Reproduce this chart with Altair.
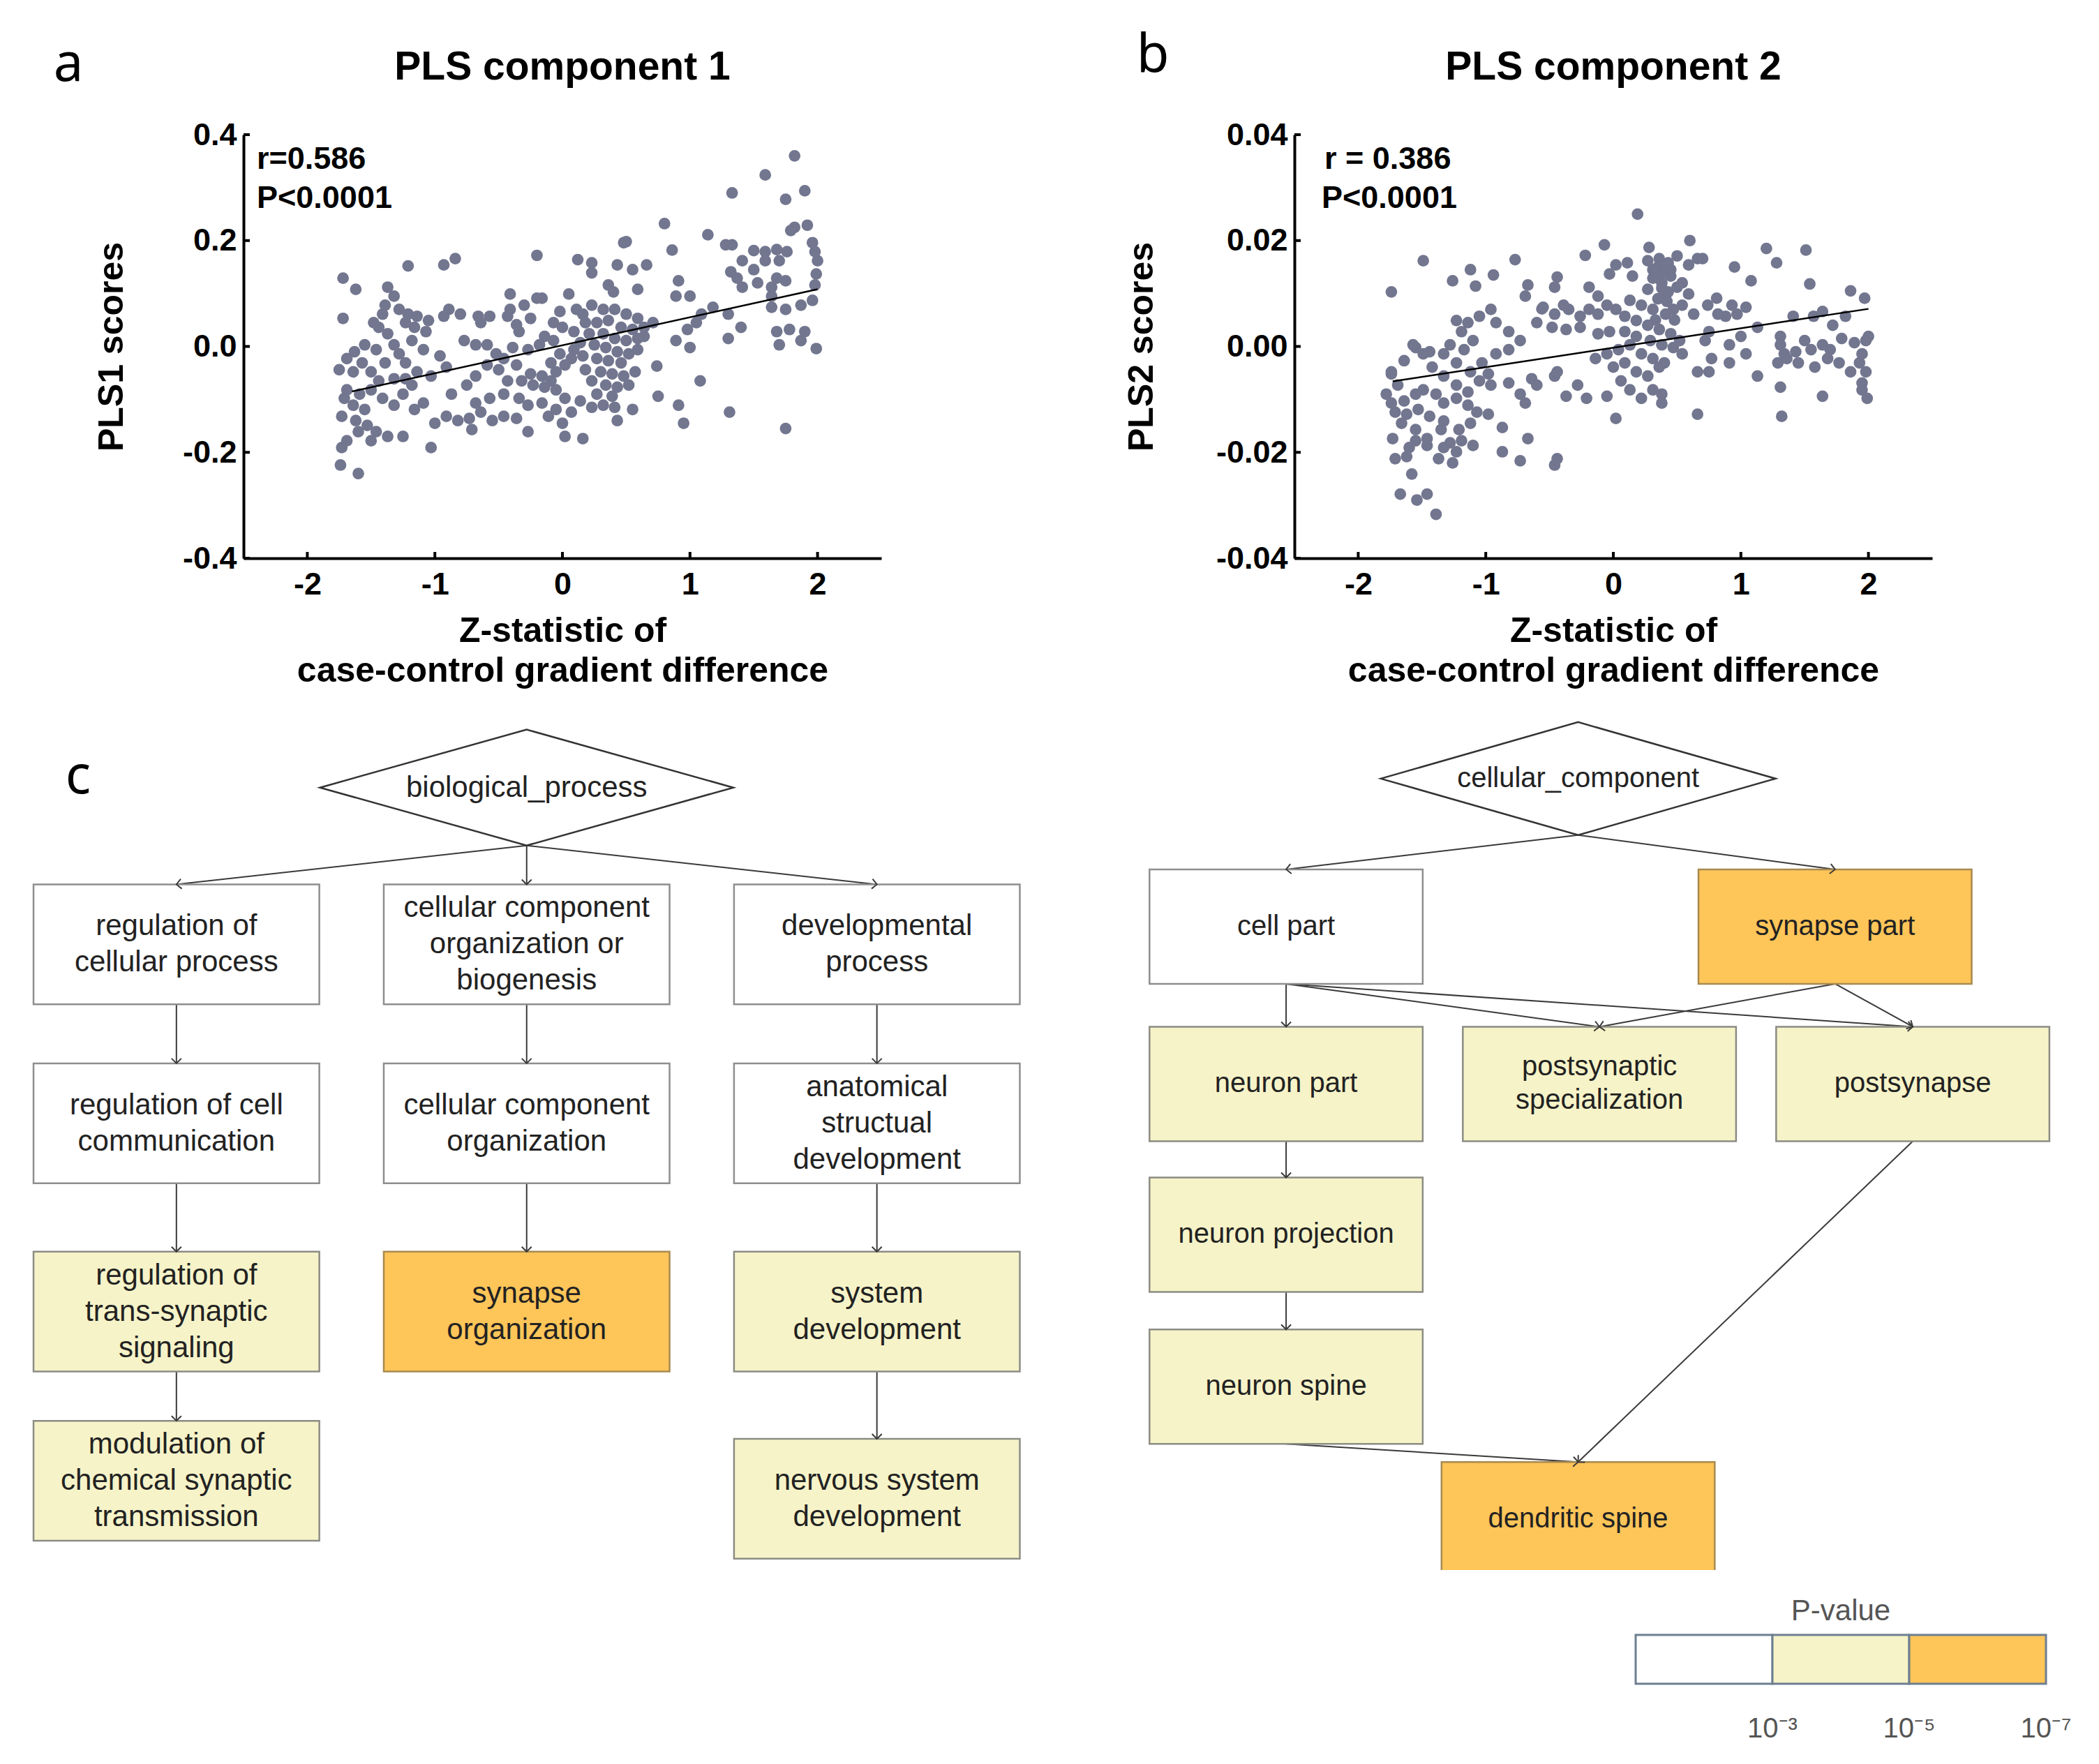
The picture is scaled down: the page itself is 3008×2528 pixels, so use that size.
import math
import altair as alt
import pandas as pd

# ------------------------------------------------------------------ data: panel a
a_points = [
(1.82,0.36),(1.59,0.324),(1.33,0.29),(1.90,0.294),(1.75,0.278),(0.80,0.232),(1.14,0.211),(1.82,0.225),(1.92,0.229),(1.79,0.219),
(1.28,0.192),(1.33,0.192),(0.86,0.182),(0.48,0.196),(0.50,0.198),(-0.20,0.172),(0.12,0.164),(0.23,0.158),(0.43,0.154),(0.55,0.145),
(0.66,0.154),(0.23,0.139),(1.50,0.181),(1.59,0.179),(1.68,0.183),(1.76,0.179),(1.41,0.162),(1.50,0.145),(1.59,0.162),(1.70,0.162),
(1.96,0.196),(1.98,0.179),(2.00,0.162),(1.99,0.137),(1.98,0.116),(1.32,0.141),(1.37,0.129),(1.41,0.112),(1.53,0.120),(1.64,0.112),
(1.68,0.129),(1.75,0.124),(0.91,0.124),(0.89,0.095),(1.00,0.095),(0.36,0.116),(0.40,0.103),(0.59,0.108),(1.64,0.095),(1.64,0.074),
(1.75,0.070),(1.87,0.078),(1.96,0.087),(1.18,0.074),(1.09,0.061),(1.30,0.061),(1.68,0.028),(1.78,0.032),(1.90,0.028),(1.40,0.036),
(1.30,0.015),(1.70,0.003),(1.87,0.011),(1.99,-0.004),(0.89,0.011),(1.00,-0.002),(1.05,0.045),(0.98,0.032),(1.08,-0.065),(0.74,-0.037),
(0.75,-0.094),(0.91,-0.111),(0.95,-0.145),(1.31,-0.124),(1.75,-0.155),(0.59,-0.006),(0.64,0.019),(0.71,0.045),
(0.11,0.070),(0.16,0.061),(0.23,0.078),(0.32,0.070),(0.41,0.070),(0.50,0.061),(0.59,0.053),(0.18,0.045),(0.27,0.045),(0.36,0.049),
(0.46,0.036),(0.55,0.032),(0.64,0.036),(0.09,0.028),(0.21,0.024),(0.32,0.024),(0.41,0.015),(0.50,0.011),(0.59,0.015),(0.14,0.007),
(0.25,0.003),(0.34,-0.002),(0.43,-0.010),(0.52,-0.014),(0.16,-0.018),(0.27,-0.023),(0.36,-0.027),(0.46,-0.031),(0.18,-0.044),(0.30,-0.048),
(0.39,-0.052),(0.48,-0.056),(0.57,-0.048),(0.23,-0.065),(0.34,-0.073),(0.43,-0.077),(0.52,-0.073),(0.27,-0.090),(0.39,-0.094),(0.32,-0.111),
(0.41,-0.115),(0.55,-0.119),(0.43,-0.140),(0.23,-0.115),(0.16,-0.174),(0.02,-0.170),(0.00,-0.145),(0.07,-0.124),(0.14,-0.103),(0.02,-0.098),
(-0.05,-0.082),(-0.09,-0.065),(-0.16,-0.056),(-0.25,-0.052),(-0.32,-0.065),(-0.23,-0.073),(-0.14,-0.077),(-0.05,-0.048),(-0.09,-0.031),(0.02,-0.035),
(0.07,-0.023),(-0.02,-0.014),(0.09,-0.006),(-0.07,0.011),(-0.14,0.019),(0.00,0.036),(-0.07,0.045),(-0.02,0.066),(0.05,0.099),(-0.16,0.091),
(-0.30,0.078),(-0.41,0.099),(-0.34,0.028),(-0.25,0.053),(-0.18,0.003),(-0.27,-0.006),(-0.39,-0.002),(-0.46,-0.023),(-0.36,-0.035),(-0.50,-0.044),
(-0.43,-0.065),(-0.46,-0.090),(-0.34,-0.098),(-0.27,-0.111),(-0.16,-0.107),(-0.46,-0.132),(-0.36,-0.136),(-0.27,-0.161),(-0.11,-0.132),(-0.05,-0.119),
(-0.55,-0.140),(-0.64,-0.124),(-0.73,-0.136),(-0.71,-0.157),(-0.82,-0.140),(-0.91,-0.132),(-1.00,-0.145),(-1.03,-0.191),(-0.87,-0.090),(-0.75,-0.073),
(-0.68,-0.056),(-0.59,-0.035),(-0.52,-0.014),(-0.59,0.003),(-0.68,0.003),(-0.77,0.011),(-0.64,0.045),(-0.57,0.057),(-0.66,0.057),(-0.80,0.061),
(-0.89,0.070),(-0.93,0.057),(-1.05,0.049),(-1.07,0.028),(-1.16,0.036),(-1.23,0.045),(-1.18,0.011),(-1.09,-0.006),(-0.96,-0.018),(-0.91,-0.039),
(-1.03,-0.056),(-1.14,-0.048),(-1.23,-0.031),(-1.28,-0.014),(-1.32,0.003),(-1.37,0.024),(-1.44,0.036),(-1.48,0.045),(-1.41,0.061),(-1.39,0.078),
(-1.32,0.095),(-1.37,0.112),(-1.28,0.070),(-1.21,0.061),(-1.14,0.057),(-0.84,0.166),(-0.93,0.154),(-1.21,0.152),(-1.62,0.108),(-1.72,0.129),
(-1.72,0.053),(-1.69,-0.023),(-1.75,-0.044),(-1.64,-0.048),(-1.57,-0.031),(-1.50,-0.048),(-1.44,-0.065),(-1.50,-0.082),(-1.59,-0.090),(-1.69,-0.082),
(-1.71,-0.098),(-1.64,-0.111),(-1.55,-0.119),(-1.73,-0.132),(-1.62,-0.140),(-1.53,-0.149),(-1.46,-0.161),(-1.37,-0.170),(-1.25,-0.170),(-1.60,-0.161),
(-1.69,-0.178),(-1.73,-0.191),(-1.50,-0.178),(-1.74,-0.224),(-1.60,-0.240),(-1.41,-0.098),(-1.32,-0.111),(-1.25,-0.090),(-1.18,-0.073),(-1.23,-0.061),
(-1.16,-0.119),(-1.09,-0.107),(-1.32,-0.061),(-1.39,-0.031),(-1.46,-0.006),(-1.55,0.003),(-1.63,-0.010),(-0.57,-0.098),(-0.68,-0.107),(-0.43,0.057),
(-0.36,0.041),(-0.20,0.091),(-0.41,0.070),
]
a_fit_x = [-1.65, 2.00]
a_fit_y = [-0.085, 0.108]

# ------------------------------------------------------------------ data: panel b
b_points = [
(0.19,0.025),(0.60,0.020),(0.28,0.0187),(-0.07,0.0192),(-0.22,0.0172),(1.20,0.0185),(1.51,0.0182),(1.28,0.0158),(0.95,0.015),(1.54,0.0118),
(1.08,0.0124),(1.86,0.0105),(1.97,0.0091),(-0.77,0.0164),(-1.49,0.0162),(-1.12,0.0145),(-0.94,0.0135),(-1.26,0.0124),(-1.08,0.0114),(-1.74,0.0103),
(-0.67,0.0116),(-0.44,0.0131),(-0.46,0.0112),(-0.19,0.0112),(-0.12,0.0095),(-0.03,0.0137),(0.02,0.0154),(0.11,0.0158),(0.15,0.0133),(0.27,0.0162),
(0.31,0.0145),(0.36,0.0166),(0.43,0.0158),(0.50,0.0171),(0.59,0.0154),(0.66,0.0166),(0.70,0.0166),(0.31,0.0129),(0.38,0.0120),(0.45,0.0133),
(0.54,0.0120),(0.27,0.0108),(0.43,0.0103),(0.59,0.0099),(0.74,0.0078),(0.81,0.0091),(0.93,0.0078),(1.04,0.0074),(0.97,0.0061),(0.88,0.0057),
(1.13,0.0036),(1.41,0.0057),(1.57,0.0057),(1.64,0.0066),(1.82,0.0057),(1.72,0.0040),(1.31,0.0019),(1.31,0.0003),(1.34,-0.0014),(1.43,-0.0010),
(1.50,0.0011),(1.55,-0.0006),(1.64,0.0003),(1.70,-0.0006),(1.79,0.0015),(1.89,0.0007),(1.98,0.0011),(2.00,0.0019),(1.95,-0.0014),(1.93,-0.0031),
(1.98,-0.0048),(1.95,-0.0069),(1.95,-0.0082),(1.99,-0.0098),(1.86,-0.0048),(1.77,-0.0031),(1.68,-0.0023),(1.58,-0.0039),(1.45,-0.0031),(1.36,-0.0023),
(1.29,-0.0031),(1.64,-0.0094),(1.31,-0.0077),(1.32,-0.0132),(1.13,-0.0056),(0.91,-0.0031),(0.77,-0.0023),(0.72,0.0011),(0.66,-0.0048),(0.75,-0.0048),
(0.66,-0.0128),(0.54,-0.0014),(0.52,0.0011),(0.45,0.0024),(0.36,0.0032),(0.27,0.0040),(0.18,0.0049),(0.09,0.0057),(0.02,0.0070),(-0.05,0.0078),
(-0.12,0.0061),(-0.19,0.0070),(-0.26,0.0057),(-0.35,0.0070),(-0.39,0.0078),(-0.55,0.0074),(-0.60,0.0045),(-0.48,0.0036),(-0.37,0.0032),(-0.26,0.0036),
(-0.12,0.0024),(-0.03,0.0028),(0.09,0.0028),(0.18,0.0019),(0.29,0.0011),(0.38,0.0003),(0.47,-0.0002),(0.13,0.0003),(0.04,-0.0006),(-0.05,-0.0014),
(-0.14,-0.0023),(0.22,-0.0014),(0.31,-0.0023),(0.40,-0.0031),(0.09,-0.0031),(0.00,-0.0039),(0.18,-0.0048),(0.27,-0.0056),(0.36,-0.0039),(0.06,-0.0065),
(0.13,-0.0082),(0.22,-0.0098),(0.31,-0.0082),(0.38,-0.0090),(0.38,-0.0107),(-0.05,-0.0094),(0.02,-0.0136),(-0.21,-0.0098),(-0.28,-0.0073),(-0.37,-0.0094),
(-0.46,-0.0056),(-0.44,-0.0048),(-0.46,-0.0224),(-0.44,-0.0212),(-0.67,-0.0174),(-0.73,-0.0216),(-0.87,-0.0199),(-0.87,-0.0153),(-0.69,-0.0107),(-0.73,-0.0090),
(-0.82,-0.0069),(-0.64,-0.0061),(-0.60,-0.0073),(-0.96,-0.0073),(-0.98,-0.0052),(-1.03,-0.0031),(-0.92,-0.0014),(-0.82,-0.0006),(-0.73,0.0011),(-0.82,0.0028),
(-0.92,0.0045),(-0.96,0.0070),(-1.05,0.0057),(-1.14,0.0045),(-1.23,0.0049),(-1.19,0.0028),(-1.10,0.0011),(-1.17,-0.0006),(-1.28,0.0003),(-1.33,-0.0014),
(-1.23,-0.0031),(-1.12,-0.0048),(-1.05,-0.0065),(-1.14,-0.0086),(-1.23,-0.0073),(-1.33,-0.0056),(-1.42,-0.0039),(-1.44,-0.0010),(-1.55,-0.0002),(-1.64,-0.0027),
(-1.74,-0.0052),(-1.69,-0.0073),(-1.78,-0.0090),(-1.74,-0.0107),(-1.64,-0.0103),(-1.55,-0.0090),(-1.49,-0.0082),(-1.39,-0.0090),(-1.33,-0.0107),(-1.23,-0.0098),
(-1.14,-0.0111),(-1.07,-0.0124),(-0.98,-0.0128),(-1.12,-0.0145),(-1.21,-0.0157),(-1.33,-0.0141),(-1.44,-0.0132),(-1.53,-0.0119),(-1.62,-0.0128),(-1.71,-0.0124),
(-1.66,-0.0145),(-1.55,-0.0157),(-1.46,-0.0174),(-1.35,-0.0157),(-1.28,-0.0182),(-1.19,-0.0178),(-1.10,-0.0187),(-1.33,-0.0191),(-1.23,-0.0199),(-1.26,-0.0220),
(-1.37,-0.0212),(-1.46,-0.0187),(-1.55,-0.0178),(-1.73,-0.0174),(-1.60,-0.0191),(-1.71,-0.0212),(-1.62,-0.0208),(-1.58,-0.0241),(-1.67,-0.0279),(-1.54,-0.0290),
(-1.46,-0.0279),(-1.39,-0.0317),(-1.57,0.0003),(-1.74,-0.0048),(-1.49,-0.0014),(-0.69,0.0095),(-0.56,0.0071),(-0.46,0.0061),(0.82,0.0061),(1.00,0.0019),
(0.91,0.0003),(1.04,-0.0014),(0.75,0.0028),(0.63,0.0061),(0.54,0.0078),(0.47,0.0070),(0.41,0.0061),(0.31,0.0070),(0.22,0.0078),(0.13,0.0087),
(0.41,0.0095),(0.50,0.0112),(0.35,0.0150),(0.40,0.0140),(0.33,0.0135),(0.45,0.0145),(0.38,0.0110),(0.42,0.0085),(0.35,0.0090),(0.48,0.0050),
(0.33,0.0050),
]
b_fit_x = [-1.73, 2.00]
b_fit_y = [-0.0066, 0.0071]

x_ticks = [-2, -1, 0, 1, 2]
a_y_ticks = [-0.4, -0.2, 0.0, 0.2, 0.4]
b_y_ticks = [-0.04, -0.02, 0.0, 0.02, 0.04]

# ------------------------------------------------------------------ data: panel c (GO trees)
bp_root = "biological_process"
bp_labels = ["regulation of\ncellular process", "cellular component\norganization or\nbiogenesis",
             "developmental\nprocess", "regulation of cell\ncommunication",
             "cellular component\norganization", "anatomical\nstructual\ndevelopment",
             "regulation of\ntrans-synaptic\nsignaling", "synapse\norganization",
             "system\ndevelopment", "modulation of\nchemical synaptic\ntransmission",
             "nervous system\ndevelopment"]
bp_col = [0, 1, 2, 0, 1, 2, 0, 1, 2, 0, 2]
bp_row = [0, 0, 0, 0.994, 0.994, 0.994, 2.04, 2.04, 2.04, 2.98, 3.08]
bp_level = [0, 0, 0, 0, 0, 0, 1, 2, 1, 1, 1]
bp_edges = [(-1, 0), (-1, 1), (-1, 2), (0, 3), (1, 4), (2, 5), (3, 6), (4, 7), (5, 8), (6, 9), (8, 10)]

cc_root = "cellular_component"
cc_labels = ["cell part", "synapse part", "neuron part", "postsynaptic\nspecialization",
             "postsynapse", "neuron projection", "neuron spine", "dendritic spine"]
cc_col = [0, 1.752, 0, 1.0, 2.0, 0, 0, 0.932]
cc_row = [0, 0, 1.025, 1.025, 1.025, 2.007, 2.997, 3.86]
cc_level = [0, 2, 1, 1, 1, 1, 1, 2]
cc_edges = [(-1, 0), (-1, 1), (0, 2), (0, 3), (0, 4), (1, 3), (1, 4), (2, 5), (5, 6), (6, 7), (4, 7)]

# P-value legend bins (-log10 P)
leg_lo = [1, 3, 5]
leg_hi = [3, 5, 7]
leg_level = [0, 1, 2]
leg_ticks = [3, 5, 7]
leg_tick_labels = ["10\u207b\u00b3", "10\u207b\u2075", "10\u207b\u2077"]

# ------------------------------------------------------------------ styles
PT = "#72768f"
FONT = "Liberation Sans"
FILL = ["#ffffff", "#f6f3c8", "#fec559"]
STROKE = ["#8e8e8e", "#8c8c84", "#a88a50"]
W, H = 914, 607


def txt(text, x, y, size, weight="bold", align="left", baseline="alphabetic",
        color="black", font=FONT):
    return alt.Chart(pd.DataFrame({"t": [text]})).mark_text(
        font=font, fontSize=size, fontWeight=weight, align=align,
        baseline=baseline, color=color
    ).encode(x=alt.value(x), y=alt.value(y), text="t:N")


def scatter(points, fit_x, fit_y, yticks, yfmt, ytitle, ytitle_x, title, ann1, ann2, ann_x1, ann_x2,
            letter, letter_x, letter_y):
    df = pd.DataFrame(points, columns=["x", "y"])
    xsc = alt.Scale(domain=[-2.5, 2.5], nice=False, zero=False)
    ysc = alt.Scale(domain=[yticks[0], yticks[-1]], nice=False, zero=False)
    yexpr = (f"datum.value < 0 ? '-' + format(-datum.value, '{yfmt}') "
             f": format(datum.value, '{yfmt}')")
    xexpr = "datum.value < 0 ? '-' + format(-datum.value, 'd') : format(datum.value, 'd')"
    xaxis = alt.Axis(values=x_ticks, ticks=False, tickSize=0, grid=False, labelExpr=xexpr,
                     labelFont=FONT, labelFontSize=45, labelFontWeight="bold",
                     labelColor="black", labelPadding=15, domainColor="black", domainWidth=4,
                     title=["Z-statistic of", "case-control gradient difference"],
                     titleFont=FONT, titleFontSize=50, titleFontWeight="bold",
                     titleColor="black", titleX=W / 2, titleY=119, titleAlign="center",
                     titleBaseline="alphabetic", titleLineHeight=57)
    yaxis = alt.Axis(values=yticks, ticks=False, tickSize=0, grid=False, labelExpr=yexpr,
                     labelFont=FONT, labelFontSize=45, labelFontWeight="bold",
                     labelColor="black", labelPadding=10, domainColor="black", domainWidth=4,
                     title=ytitle, titleFont=FONT, titleFontSize=50, titleFontWeight="bold",
                     titleColor="black", titleAngle=270, titleX=ytitle_x, titleY=H / 2,
                     titleAlign="center", titleBaseline="middle")
    pts = alt.Chart(df).mark_circle(size=280, color=PT, opacity=1).encode(
        x=alt.X("x:Q", scale=xsc, axis=xaxis), y=alt.Y("y:Q", scale=ysc, axis=yaxis))
    fit = alt.Chart(pd.DataFrame({"x": fit_x, "y": fit_y})).mark_line(
        color="black", strokeWidth=2.5).encode(
        x=alt.X("x:Q", scale=xsc), y=alt.Y("y:Q", scale=ysc))
    xt = alt.Chart(pd.DataFrame({"x": x_ticks})).mark_rule(color="black", strokeWidth=4).encode(
        x=alt.X("x:Q", scale=xsc), y=alt.value(H), y2=alt.value(H - 9))
    yt = alt.Chart(pd.DataFrame({"y": yticks})).mark_rule(color="black", strokeWidth=4).encode(
        y=alt.Y("y:Q", scale=ysc), x=alt.value(0), x2=alt.value(9))
    layers = [pts, fit, xt, yt,
              txt(title, W / 2, -79, 57, align="center"),
              txt(ann1, ann_x1, 49, 45),
              txt(ann2, ann_x2, 105, 45)]
    if letter:
        layers.append(txt(letter, letter_x, letter_y, 76, weight="normal", align="center",
                          font="Noto Sans"))
    return alt.layer(*layers).properties(width=W, height=H)


def diagram(root, root_col, root_row, labels, cols, rows, levels, edges,
            px_col, px_row, xdom, ydom, width, height, fsize, lh,
            half_w, half_h, dia_hw, dia_hh, letter=None):
    xsc = alt.Scale(domain=xdom, nice=False, zero=False)
    ysc = alt.Scale(domain=ydom, nice=False, zero=False, reverse=True)
    nodes = pd.DataFrame({"label": labels, "col": cols, "row": rows, "level": levels})
    nodes["x1"] = nodes["col"] - half_w
    nodes["x2"] = nodes["col"] + half_w
    nodes["y1"] = nodes["row"] - half_h
    nodes["y2"] = nodes["row"] + half_h
    # first text line position so that the block of lines is centred in its box
    nlines = nodes["label"].str.count("\n")
    nodes["trow"] = nodes["row"] - nlines * lh / 2 / px_row
    er = []
    for p, c in edges:
        if p < 0:
            sx, sy = root_col, root_row + dia_hh
        else:
            sx, sy = cols[p], rows[p] + half_h
        tx, ty = cols[c], rows[c] - half_h
        dx = (tx - sx) * px_col
        dy = (ty - sy) * px_row
        ang = math.degrees(math.atan2(-dx, dy)) % 360
        er.append({"x": sx, "y": sy, "x2": tx, "y2": ty, "ang": ang})
    edf = pd.DataFrame(er)
    rdf = pd.DataFrame({"label": [root], "col": [root_col], "row": [root_row]})

    ratio = (dia_hh * px_row) / (dia_hw * px_col)
    dia_size = (2 * dia_hw * px_col) ** 2
    enc_x = lambda f: alt.X(f, scale=xsc, axis=None)
    enc_y = lambda f: alt.Y(f, scale=ysc, axis=None)

    e_lines = alt.Chart(edf).mark_rule(color="#3a3a3a", strokeWidth=2).encode(
        x=enc_x("x:Q"), y=enc_y("y:Q"), x2="x2:Q", y2="y2:Q")
    heads = alt.Chart(edf).mark_point(
        shape="M-1,-1L0,0L1,-1", filled=False, size=196, color="#3a3a3a",
        strokeWidth=2, opacity=1).encode(
        x=enc_x("x2:Q"), y=enc_y("y2:Q"), angle=alt.Angle("ang:Q", scale=None))
    diamond = alt.Chart(rdf).mark_point(
        shape=f"M-1,0L0,-{ratio:.4f}L1,0L0,{ratio:.4f}Z", filled=True, fill="white",
        stroke="#333333", strokeWidth=2.5, size=dia_size, opacity=1).encode(
        x=enc_x("col:Q"), y=enc_y("row:Q"))
    dia_text = alt.Chart(rdf).mark_text(font=FONT, fontSize=fsize, color="#222222",
                                        baseline="middle").encode(
        x=enc_x("col:Q"), y=enc_y("row:Q"), text="label:N")
    boxes = alt.Chart(nodes).mark_rect(strokeWidth=2.5, clip=True).encode(
        x=enc_x("x1:Q"), x2="x2:Q", y=enc_y("y1:Q"), y2="y2:Q",
        fill=alt.Fill("level:O", scale=alt.Scale(domain=[0, 1, 2], range=FILL), legend=None),
        stroke=alt.Stroke("level:O", scale=alt.Scale(domain=[0, 1, 2], range=STROKE), legend=None))
    labels_l = alt.Chart(nodes).mark_text(font=FONT, fontSize=fsize, color="#222222",
                                          baseline="middle", lineBreak="\n",
                                          lineHeight=lh).encode(
        x=enc_x("col:Q"), y=enc_y("trow:Q"), text="label:N")
    layers = [e_lines, diamond, boxes, heads, dia_text, labels_l]
    if letter:
        layers.append(txt(letter[0], letter[1], letter[2], 76, weight="normal",
                          align="center", font="Noto Sans"))
    return alt.layer(*layers).properties(width=width, height=height)


# ------------------------------------------------------------------ panels a, b
chart_a = scatter(a_points, a_fit_x, a_fit_y, a_y_ticks, ".1f", "PLS1 scores", -189,
                  "PLS component 1", "r=0.586", "P<0.0001", 19, 19, None, 0, 0)
chart_b = scatter(b_points, b_fit_x, b_fit_y, b_y_ticks, ".2f", "PLS2 scores", -219,
                  "PLS component 2", "r = 0.386", "P<0.0001", 43, 39, "b", -203, -90)

spacer = alt.layer(
    txt("a", 58, -77, 76, weight="normal", align="center", font="Noto Sans"),
    alt.Chart(pd.DataFrame({"t": [0]})).mark_rule(opacity=0, strokeWidth=1).encode(
        x=alt.value(-32), x2=alt.value(-31), y=alt.value(-185), y2=alt.value(-184)),
).properties(width=309, height=H)

# ------------------------------------------------------------------ panel c
chart_l = diagram(bp_root, 1, -0.871, bp_labels, bp_col, bp_row, bp_level, bp_edges,
                  px_col=502, px_row=258, xdom=[-0.424, 2.425], ydom=[-1.238, 3.468],
                  width=1430, height=1214, fsize=42, lh=52,
                  half_w=0.408, half_h=0.333, dia_hw=0.59, dia_hh=0.322,
                  letter=("c", 72, 103))
chart_r = diagram(cc_root, 0.932, -0.964, cc_labels, cc_col, cc_row, cc_level, cc_edges,
                  px_col=449, px_row=220, xdom=[-0.479, 2.483], ydom=[-1.336, 4.191],
                  width=1330, height=1216, fsize=40, lh=48,
                  half_w=0.436, half_h=0.3727, dia_hw=0.63, dia_hh=0.368)

leg_df = pd.DataFrame({"lo": leg_lo, "hi": leg_hi, "level": leg_level})
leg_tk = pd.DataFrame({"v": leg_ticks, "lab": leg_tick_labels})
lxsc = alt.Scale(domain=[-6.306, 7.265], nice=False, zero=False)
legend = alt.layer(
    alt.Chart(leg_df).mark_rect(stroke="#6d7f91", strokeWidth=3).encode(
        x=alt.X("lo:Q", scale=lxsc, axis=None), x2="hi:Q",
        y=alt.value(89), y2=alt.value(159),
        fill=alt.Fill("level:O", scale=alt.Scale(domain=[0, 1, 2], range=FILL), legend=None)),
    alt.Chart(pd.DataFrame({"v": [4], "t": ["P-value"]})).mark_text(
        font=FONT, fontSize=42, color="#555555", baseline="middle").encode(
        x=alt.X("v:Q", scale=lxsc, axis=None), y=alt.value(55), text="t:N"),
    alt.Chart(leg_tk).mark_text(font=FONT, fontSize=40, color="#555555",
                                baseline="middle").encode(
        x=alt.X("v:Q", scale=lxsc, axis=None), y=alt.value(224), text="lab:N"),
).properties(width=1330, height=244)

top = alt.hconcat(spacer, alt.hconcat(chart_a, chart_b, spacing=592, bounds="flush"),
                  spacing=0, bounds="flush")
bottom = alt.hconcat(chart_l, alt.vconcat(chart_r, legend, spacing=4, bounds="flush"),
                     spacing=158, bounds="flush")
# nested concat groups count as zero-height in a flush layout, so the gap
# includes the height of the top row of scatter plots
chart = alt.vconcat(top, bottom, spacing=H + 234, bounds="flush").properties(
    padding=0).configure(font=FONT, background="white").configure_view(strokeWidth=0)

chart.save("out.html", embed_options={"renderer": "svg", "actions": False})
